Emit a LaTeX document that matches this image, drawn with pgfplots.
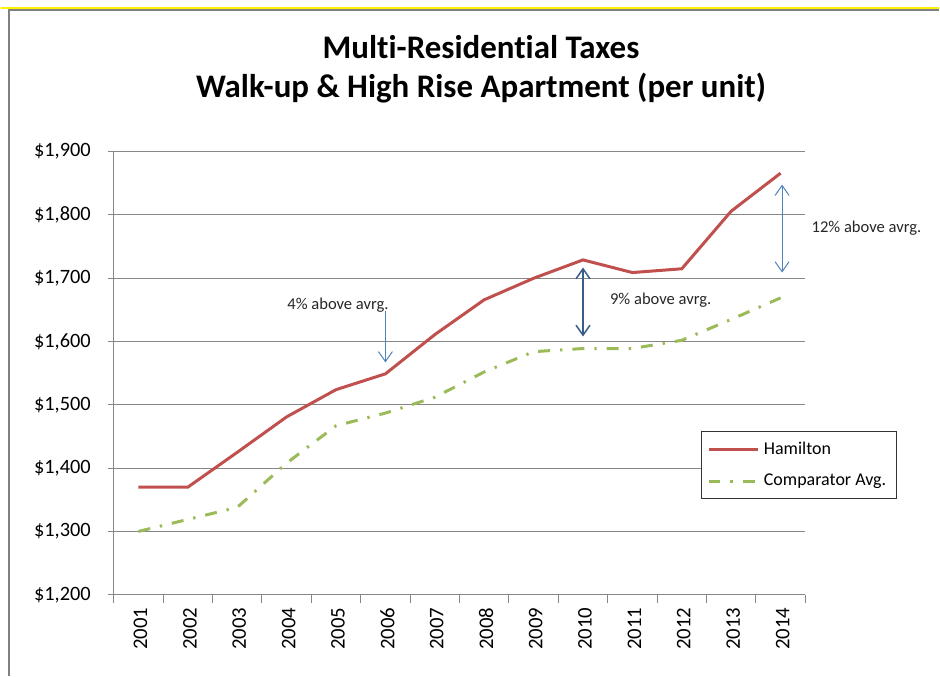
\documentclass[border=0pt]{standalone}
\usepackage{fontspec}
\setmainfont{Carlito}[Ligatures=NoCommon]
\usepackage{pgfplots}
\pgfplotsset{compat=1.18}
\usetikzlibrary{arrows.meta}
\definecolor{hamred}{RGB}{192,80,77}
\definecolor{cmpgreen}{RGB}{155,187,89}
\definecolor{arrblue}{RGB}{79,129,189}
\definecolor{arrdark}{RGB}{56,93,138}
\definecolor{gridgray}{RGB}{134,134,134}
\definecolor{framegray}{RGB}{128,128,128}
\begin{document}
\begin{tikzpicture}
\path (0,0) rectangle (470pt,338.5pt);
\draw[yellow, line width=1pt] (0,334.6pt) -- (470pt,334.6pt);
\draw[framegray, line width=1pt] (4pt,0) -- (4pt,333.5pt) -- (470pt,333.5pt);
\node[font=\fontsize{16.5}{19}\selectfont\bfseries] at (240.5pt,315pt) {Multi-Residential Taxes};
\node[font=\fontsize{16.5}{19}\selectfont\bfseries] at (240.5pt,294.5pt) {Walk-up \& High Rise Apartment (per unit)};
\begin{axis}[
  at={(56.5pt,40.5pt)}, anchor=south west,
  width=346.5pt, height=222pt, scale only axis,
  xmin=-0.5, xmax=13.5, ymin=1200, ymax=1900,
  axis lines=left,
  axis line style={gridgray, line width=0.5pt, -},
  xtick={0,...,13},
  xticklabels={2001,2002,2003,2004,2005,2006,2007,2008,2009,2010,2011,2012,2013,2014},
  minor xtick={-0.5,0.5,...,13.5},
  major x tick style={draw=none},
  minor x tick style={gridgray, line width=0.5pt},
  y tick style={gridgray, line width=0.5pt},
  tick align=outside,
  major tick length=3pt, minor tick length=4pt,
  ytick={1200,1300,...,1900},
  yticklabels={{\$1,200},{\$1,300},{\$1,400},{\$1,500},{\$1,600},{\$1,700},{\$1,800},{\$1,900}},
  ymajorgrids,
  grid style={gridgray, line width=0.5pt},
  xticklabel style={rotate=90, anchor=east, font=\fontsize{10.4}{12}\selectfont, yshift=-1pt},
  yticklabel style={font=\fontsize{10.2}{12}\selectfont, xshift=-5pt},
  clip=false,
  legend cell align=left,
  legend image code/.code={\draw[#1] (0pt,0pt) -- (25pt,0pt);},
  legend style={at={(0.8485,0.3694)}, anchor=north west, draw=black!80, line width=0.5pt,
    font=\fontsize{9}{11}\selectfont, row sep=4.5pt, inner sep=3pt},
]
\addplot[hamred, line width=1.5pt] coordinates {
(0,1370) (1,1370) (2,1425) (3,1481) (4,1524) (5,1549) (6,1611)
(7,1666) (8,1700) (9,1729) (10,1709) (11,1715) (12,1806) (13,1866)};
\addlegendentry{Hamilton}
\addplot[cmpgreen, line width=1.5pt, dash pattern=on 6pt off 5pt on 1.2pt off 5pt] coordinates {
(0,1300) (1,1319) (2,1338) (3,1408) (4,1467) (5,1487) (6,1512)
(7,1552) (8,1584) (9,1589) (10,1589) (11,1602) (12,1635) (13,1669)};
\addlegendentry{Comparator Avg.}
\draw[arrblue, line width=0.5pt, -{Straight Barb[length=5pt,width=7pt]}] (axis cs:5,1648) -- (axis cs:5,1567);
\draw[arrdark, line width=0.75pt, {Straight Barb[length=5pt,width=7pt]}-{Straight Barb[length=5pt,width=7pt]}] (axis cs:9,1717) -- (axis cs:9,1608);
\draw[arrblue, line width=0.5pt, {Straight Barb[length=5pt,width=7pt]}-{Straight Barb[length=5pt,width=7pt]}] (axis cs:13.03,1848) -- (axis cs:13.03,1709);
\node[font=\fontsize{8.3}{10}\selectfont, text=black!85] at (axis cs:4.04,1658) {4\% above avrg.};
\node[font=\fontsize{8.3}{10}\selectfont, text=black!85, anchor=west, inner sep=0pt] at (axis cs:9.54,1666) {9\% above avrg.};
\node[font=\fontsize{8.3}{10}\selectfont, text=black!85, anchor=west, inner sep=0pt] at (axis cs:13.62,1779) {12\% above avrg.};
\end{axis}
\end{tikzpicture}
\end{document}
